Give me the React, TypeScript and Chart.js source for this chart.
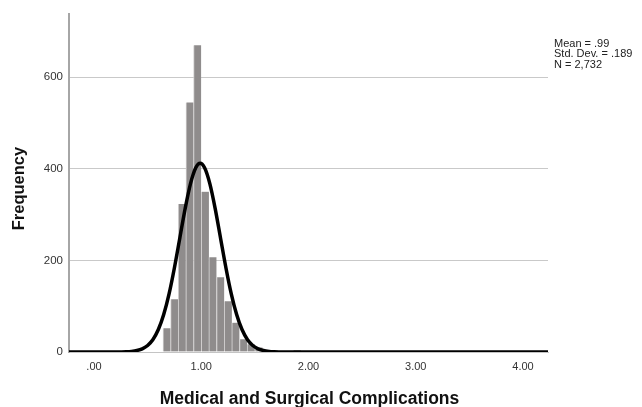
import React, { useEffect, useRef } from "react";
import { Chart, registerables } from "chart.js";

Chart.register(...registerables);

// Histogram bins (midpoints) and frequencies
const binMidpoints = [0.679, 0.75, 0.821, 0.893, 0.964, 1.036, 1.107, 1.179, 1.25, 1.321, 1.393, 1.464, 1.536, 1.607, 1.679, 1.75, 1.821, 1.893, 1.964];
const frequencies = [52, 115, 323, 545, 670, 350, 207, 163, 111, 64, 28, 17, 10, 5, 3, 2, 1, 4, 1];

// Normal curve
const curveX = [-0.233, 0.0, 0.2, 0.3, 0.35, 0.4, 0.45, 0.5, 0.55, 0.6, 0.65, 0.7, 0.75, 0.8, 0.85, 0.9, 0.95, 0.99, 1.03, 1.08, 1.13, 1.18, 1.23, 1.28, 1.33, 1.38, 1.43, 1.48, 1.53, 1.58, 1.63, 1.68, 1.78, 2.0, 4.233];
const curveY = [0, 0, 0.07, 0.5, 1.3, 3.2, 7, 14.3, 27.4, 49, 81.7, 126.9, 184, 248.5, 313.1, 367.7, 402.8, 412, 402.8, 367.7, 313.1, 248.5, 184, 126.9, 81.7, 49, 27.4, 14.3, 7, 3.2, 1.3, 0.5, 0.07, 0, 0];

const xTicks = [0, 1, 2, 3, 4];
const xTickLabels = [".00", "1.00", "2.00", "3.00", "4.00"];
const yTicks = [0, 200, 400, 600];
const yTickLabels = ["0", "200", "400", "600"];

const statsLines = ["Mean = .99", "Std. Dev. = .189", "N = 2,732"];
const xTitle = "Medical and Surgical Complications";
const yTitle = "Frequency";

const FONT = "'Liberation Sans', Arial, sans-serif";

const textPlugin = {
  id: "texts",
  afterDraw(chart: any) {
    const ctx = chart.ctx;
    ctx.save();
    ctx.fillStyle = "#111";
    // x title
    ctx.font = `bold 17.5px ${FONT}`;
    ctx.textAlign = "center";
    ctx.textBaseline = "alphabetic";
    ctx.fillText(xTitle, 309.5, 404);
    // y title
    ctx.save();
    ctx.translate(24, 188.5);
    ctx.rotate(-Math.PI / 2);
    ctx.font = `bold 16.5px ${FONT}`;
    ctx.textAlign = "center";
    ctx.textBaseline = "alphabetic";
    ctx.fillText(yTitle, 0, 0);
    ctx.restore();
    // stats
    ctx.font = `11px ${FONT}`;
    ctx.textAlign = "left";
    ctx.textBaseline = "middle";
    ctx.fillStyle = "#222";
    statsLines.forEach((s, i) => ctx.fillText(s, 554, 43.5 + i * 10.5));
    ctx.restore();
  },
};

export default function App() {
  const ref = useRef<HTMLCanvasElement | null>(null);
  useEffect(() => {
    if (!ref.current) return;
    const chart = new Chart(ref.current, {
      type: "bar",
      data: {
        datasets: [
          {
            type: "line",
            data: curveX.map((x, i) => ({ x, y: curveY[i] })),
            borderColor: "#000",
            borderWidth: 3.5,
            pointRadius: 0,
            cubicInterpolationMode: "monotone",
            fill: false,
            order: 0,
          } as any,
          {
            type: "bar",
            data: binMidpoints.map((x, i) => ({ x, y: frequencies[i] })),
            backgroundColor: "#8f8c8c",
            borderColor: "#d2d0d0",
            borderWidth: { left: 1, right: 0, top: 0, bottom: 0 },
            borderSkipped: false,
            barPercentage: 1,
            categoryPercentage: 1,
            order: 1,
          } as any,
        ],
      },
      options: {
        animation: false,
        responsive: false,
        maintainAspectRatio: false,
        layout: { padding: { left: 0, right: 94, top: 14, bottom: 0 } },
        plugins: { legend: { display: false }, tooltip: { enabled: false } },
        scales: {
          x: {
            type: "linear",
            min: -0.233,
            max: 4.233,
            offset: false,
            afterBuildTicks: (s: any) => {
              s.ticks = xTicks.map((v) => ({ value: v }));
            },
            afterFit: (s: any) => {
              s.height = 55;
            },
            ticks: {
              autoSkip: false,
              maxRotation: 0,
              padding: 8,
              color: "#333",
              font: { family: FONT, size: 11 },
              callback: (v: any) => {
                const i = xTicks.indexOf(Number(v));
                return i >= 0 ? xTickLabels[i] : "";
              },
            },
            grid: { display: false, drawTicks: false },
            border: { display: true, color: "#c4c4c4", width: 1 },
          },
          y: {
            type: "linear",
            min: 0,
            max: 738,
            afterBuildTicks: (s: any) => {
              s.ticks = yTicks.map((v) => ({ value: v }));
            },
            afterFit: (s: any) => {
              s.width = 69;
            },
            ticks: {
              padding: 6,
              color: "#333",
              font: { family: FONT, size: 11.5 },
              callback: (v: any) => {
                const i = yTicks.indexOf(Number(v));
                return i >= 0 ? yTickLabels[i] : "";
              },
            },
            grid: { color: "#c9c9c9", lineWidth: 1, drawTicks: false },
            border: { display: true, color: "#a6a6a6", width: 2 },
          },
        },
      },
      plugins: [textPlugin],
    });
    return () => chart.destroy();
  }, []);
  return (
    <div style={{ position: "fixed", left: 0, top: 0, width: 642, height: 407, background: "#fff" }}>
      <canvas ref={ref} width={642} height={407} style={{ width: 642, height: 407 }} />
    </div>
  );
}
